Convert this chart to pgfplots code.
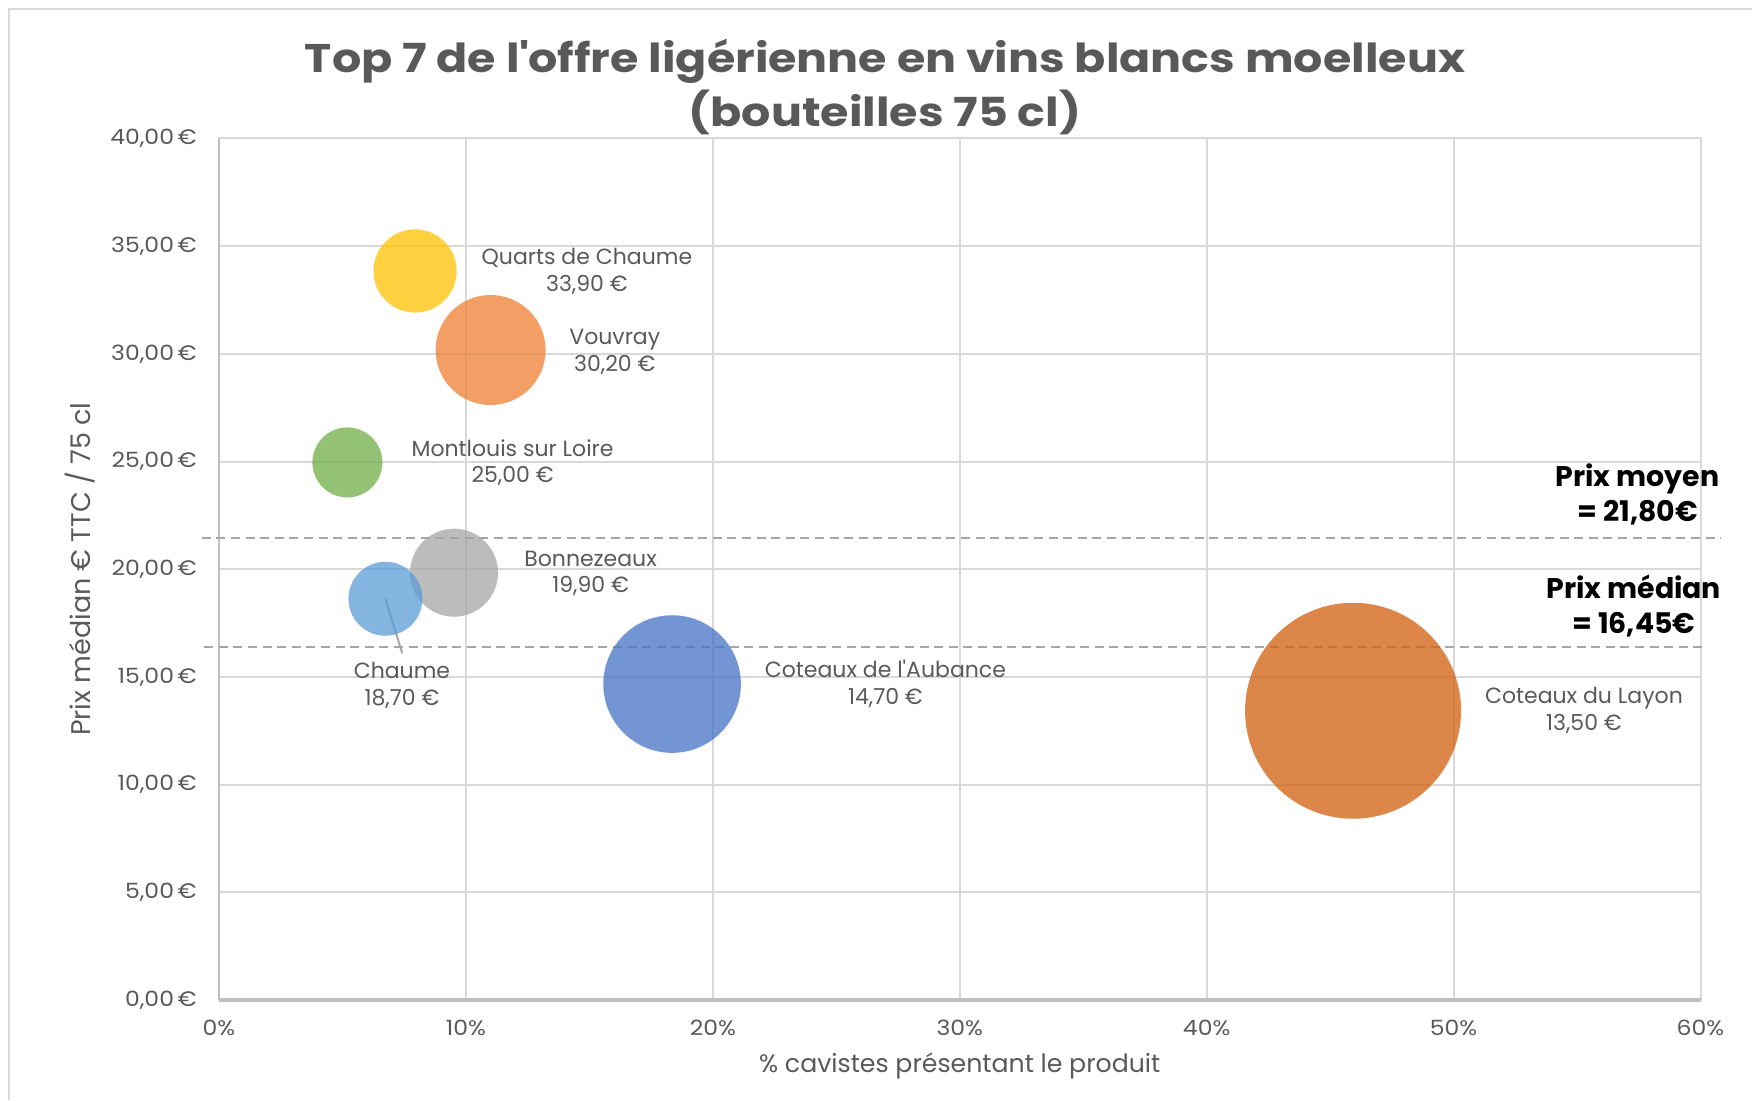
\documentclass[border=0pt]{standalone}
\usepackage{pgfplots}
\pgfplotsset{compat=1.18}
\usepackage{fontspec}
\setmainfont{Poppins}
\newfontfamily\titlefont[FakeStretch=1.15]{Poppins}
\newfontfamily\widefont[FakeStretch=1.12]{Poppins}
\definecolor{txt}{HTML}{595959}
\definecolor{gridc}{HTML}{D9D9D9}
\definecolor{axc}{HTML}{BFBFBF}
\definecolor{dashc}{HTML}{A6A6A6}
\definecolor{cQ}{HTML}{FFC000}
\definecolor{cV}{HTML}{ED7D31}
\definecolor{cM}{HTML}{70AD47}
\definecolor{cB}{HTML}{A5A5A5}
\definecolor{cC}{HTML}{5B9BD5}
\definecolor{cA}{HTML}{4472C4}
\definecolor{cL}{HTML}{D25E0C}
\begin{document}
\begin{tikzpicture}
\useasboundingbox (0,0) rectangle (876pt,550pt);
\draw[gridc, line width=1.2pt] (4.5pt,0) -- (4.5pt,545.5pt) -- (876pt,545.5pt);
\node[anchor=base, text=txt, font=\titlefont\fontsize{20}{22}\selectfont\bfseries] at (442.5pt,513.5pt) {Top 7 de l\textquotesingle offre ligérienne en vins blancs moelleux};
\node[anchor=base, text=txt, font=\titlefont\fontsize{20}{22}\selectfont\bfseries] at (442.5pt,486.5pt) {(bouteilles 75 cl)};
\begin{axis}[
  at={(109.5pt,50pt)}, anchor=south west,
  scale only axis, width=740.75pt, height=430.75pt,
  xmin=0, xmax=60, ymin=0, ymax=40,
  xtick={0,10,...,60}, ytick={0,5,...,40},
  clip=false,
  axis line style={draw=none},
  major tick length=0pt,
  grid=major,
  major grid style={draw=gridc, line width=1pt},
  /pgf/number format/assume math mode=true,
  xticklabel={\pgfmathprintnumber[assume math mode=true]{\tick}\%},
  yticklabel={\pgfmathprintnumber[fixed, fixed zerofill, precision=2, use comma, assume math mode=true]{\tick}\,€},
  ticklabel style={font=\widefont\fontsize{10.5}{12}\selectfont, text=txt},
  xticklabel style={anchor=center, yshift=-14pt},
  yticklabel style={anchor=east, inner sep=0pt, xshift=-11pt},
  xlabel={\% cavistes présentant le produit},
  ylabel={Prix médian € TTC / 75 cl},
  xlabel style={font=\fontsize{12.6}{14}\selectfont, text=txt, at={(axis description cs:0.5,0)}, anchor=center, yshift=-33pt},
  ylabel style={font=\fontsize{13.5}{15}\selectfont, text=txt, at={(axis description cs:-0.0938,0.5)}, anchor=center},
]
% axis lines
\addplot[draw=axc, line width=1pt] coordinates {(0,0) (0,40)};
\addplot[draw=axc, line width=1.6pt] coordinates {(0,0) (60,0)};
% reference lines
\addplot[draw=dashc, line width=0.8pt, dash pattern=on 4.5pt off 2.8pt] coordinates {(-0.7,21.45) (60.8,21.45)};
\addplot[draw=dashc, line width=0.8pt, dash pattern=on 4.5pt off 2.8pt] coordinates {(-0.6,16.40) (60.2,16.40)};
% bubbles
\tikzset{bub/.style={only marks, mark=*, color=#1, mark options={fill=#1, fill opacity=0.75, draw opacity=0}}}
\addplot[bub=cQ, mark size=20.8pt] coordinates {(7.94,33.85)};
\addplot[bub=cV, mark size=27.5pt] coordinates {(11.00,30.18)};
\addplot[bub=cM, mark size=17.5pt] coordinates {(5.20,24.96)};
\addplot[bub=cB, mark size=22.0pt] coordinates {(9.52,19.84)};
\addplot[bub=cC, mark size=18.5pt] coordinates {(6.74,18.63)};
\addplot[bub=cA, mark size=34.4pt] coordinates {(18.35,14.67)};
\addplot[bub=cL, mark size=54.0pt] coordinates {(45.93,13.43)};
% leader line
\addplot[draw=dashc, line width=1pt] coordinates {(6.74,18.63) (7.42,16.10)};
% labels
\tikzset{bl/.style={align=center, text=txt, font=\fontsize{11}{13.4}\selectfont, inner sep=0pt}}
\node[bl] at (axis cs:14.90,33.81) {Quarts de Chaume\\33,90 €};
\node[bl] at (axis cs:16.03,30.11) {Vouvray\\30,20 €};
\node[bl] at (axis cs:11.89,24.95) {Montlouis sur Loire\\25,00 €};
\node[bl] at (axis cs:15.05,19.81) {Bonnezeaux\\19,90 €};
\node[bl] at (axis cs:7.41,14.62) {Chaume\\18,70 €};
\node[bl] at (axis cs:26.99,14.68) {Coteaux de l\textquotesingle Aubance\\14,70 €};
\node[bl] at (axis cs:55.28,13.46) {Coteaux du Layon\\13,50 €};
\node[align=center, font=\fontsize{14.2}{17.3}\selectfont\bfseries, inner sep=0pt] at (axis cs:57.45,23.48) {Prix moyen\\= 21,80€};
\node[align=center, font=\fontsize{14.2}{17.3}\selectfont\bfseries, inner sep=0pt] at (axis cs:57.30,18.30) {Prix médian\\= 16,45€};
\end{axis}
\end{tikzpicture}
\end{document}
